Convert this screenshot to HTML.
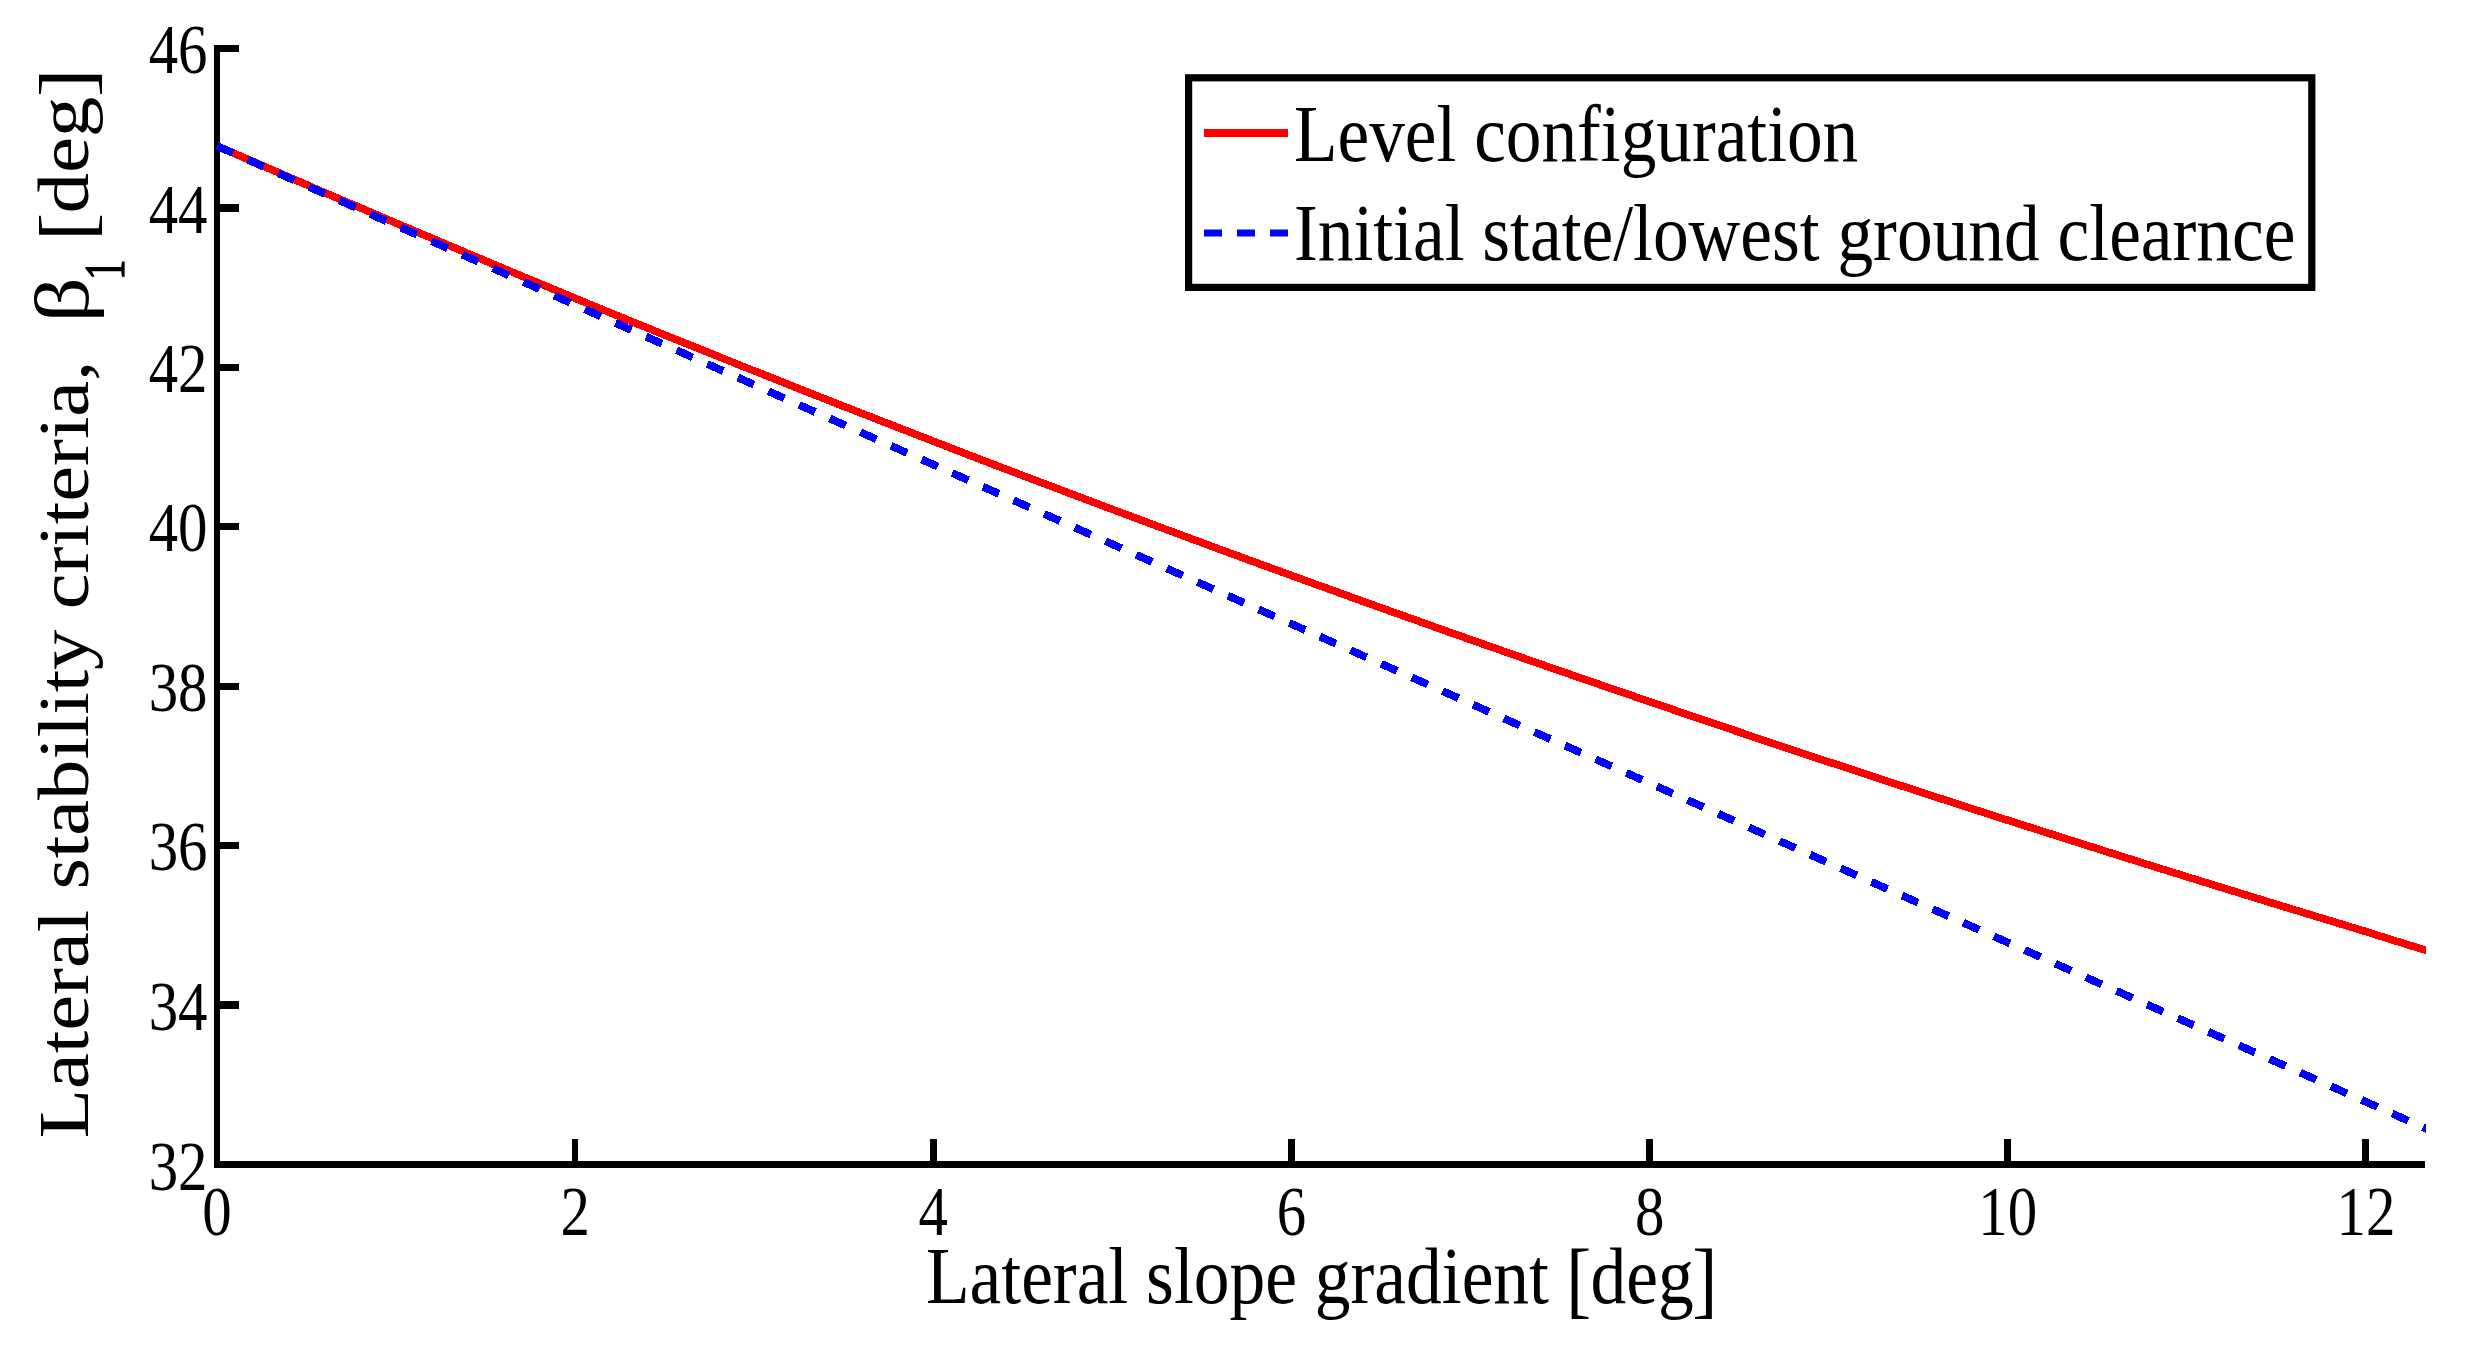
<!DOCTYPE html>
<html><head><meta charset="utf-8"><title>Lateral stability criteria</title>
<style>html,body{margin:0;padding:0;background:#fff}</style></head>
<body>
<svg width="2467" height="1349" viewBox="0 0 2467 1349" style="display:block">
<rect width="2467" height="1349" fill="#fff"/>
<g fill="#000" shape-rendering="crispEdges">
<rect x="214" y="45" width="6" height="1123"/>
<rect x="214" y="1161" width="2211" height="7"/>
<rect x="214" y="1161" width="25" height="7"/>
<rect x="214" y="1001" width="25" height="8"/>
<rect x="214" y="842" width="25" height="7"/>
<rect x="214" y="683" width="25" height="7"/>
<rect x="214" y="523" width="25" height="7"/>
<rect x="214" y="364" width="25" height="7"/>
<rect x="214" y="204" width="25" height="8"/>
<rect x="214" y="45" width="25" height="7"/>
<rect x="214" y="1139" width="6" height="25"/>
<rect x="572" y="1139" width="6" height="25"/>
<rect x="930" y="1139" width="7" height="25"/>
<rect x="1288" y="1139" width="7" height="25"/>
<rect x="1646" y="1139" width="7" height="25"/>
<rect x="2004" y="1139" width="7" height="25"/>
<rect x="2362" y="1139" width="7" height="25"/>
</g>
<defs><clipPath id="ax"><rect x="214" y="45" width="2212" height="1123"/></clipPath></defs>
<g clip-path="url(#ax)" shape-rendering="crispEdges">
<path d="M217.0,145.9 L254.1,162.0 L291.1,178.1 L328.1,194.1 L365.2,209.9 L402.2,225.7 L439.3,241.3 L476.3,257.0 L513.4,272.6 L550.5,288.0 L587.5,303.4 L624.5,318.6 L661.6,333.7 L698.6,348.6 L735.7,363.5 L772.8,378.3 L809.8,393.0 L846.8,407.5 L883.9,422.0 L920.9,436.4 L958.0,450.8 L995.0,465.0 L1032.1,479.1 L1069.2,493.1 L1106.2,507.1 L1143.2,520.9 L1180.3,534.7 L1217.3,548.4 L1254.4,562.0 L1291.4,575.5 L1328.5,588.9 L1365.5,602.3 L1402.6,615.5 L1439.6,628.7 L1476.7,641.8 L1513.8,654.8 L1550.8,667.7 L1587.8,680.5 L1624.9,693.2 L1661.9,705.9 L1699.0,718.5 L1736.0,731.0 L1773.1,743.4 L1810.1,755.8 L1847.2,768.0 L1884.2,780.2 L1921.3,792.3 L1958.3,804.3 L1995.4,816.3 L2032.4,828.1 L2069.5,839.9 L2106.6,851.6 L2143.6,863.3 L2180.6,874.8 L2217.7,886.3 L2254.8,897.7 L2291.8,909.1 L2328.8,920.3 L2365.9,931.6 L2402.9,943.2 L2440.0,954.6" fill="none" stroke="#f00" stroke-width="7.6"/>
<path d="M217.0,146.0 L380.0,218.4 L471.0,258.5 L575.0,304.9 L800.0,405.3 L1650.0,783.4 L2440.0,1134.8" fill="none" stroke="#00f" stroke-width="7.8" stroke-dasharray="17.5 16.03"/>
</g>
<g style="font-family:'Liberation Serif','DejaVu Serif',serif;font-size:70.5px" fill="#000">
<text transform="translate(207.5,1190.0) scale(0.835,1)" text-anchor="end">32</text>
<text transform="translate(207.5,1029.6) scale(0.835,1)" text-anchor="end">34</text>
<text transform="translate(207.5,870.2) scale(0.835,1)" text-anchor="end">36</text>
<text transform="translate(207.5,710.8) scale(0.835,1)" text-anchor="end">38</text>
<text transform="translate(207.5,551.4) scale(0.835,1)" text-anchor="end">40</text>
<text transform="translate(207.5,391.9) scale(0.835,1)" text-anchor="end">42</text>
<text transform="translate(207.5,232.5) scale(0.835,1)" text-anchor="end">44</text>
<text transform="translate(207.5,73.1) scale(0.835,1)" text-anchor="end">46</text>
<text transform="translate(217.0,1234.8) scale(0.835,1)" text-anchor="middle">0</text>
<text transform="translate(575.2,1234.8) scale(0.835,1)" text-anchor="middle">2</text>
<text transform="translate(933.3,1234.8) scale(0.835,1)" text-anchor="middle">4</text>
<text transform="translate(1291.5,1234.8) scale(0.835,1)" text-anchor="middle">6</text>
<text transform="translate(1649.6,1234.8) scale(0.835,1)" text-anchor="middle">8</text>
<text transform="translate(2007.8,1234.8) scale(0.835,1)" text-anchor="middle">10</text>
<text transform="translate(2366.0,1234.8) scale(0.835,1)" text-anchor="middle">12</text>
</g>
<g style="font-family:'Liberation Serif','DejaVu Serif',serif;font-size:80px" fill="#000">
<text transform="translate(925.9,1303.1) scale(0.8935,1)">Lateral slope gradient <tspan font-size="84.8" dy="4.6" dx="-0.8">[</tspan><tspan dy="-4.6" dx="-0.8">deg</tspan><tspan font-size="84.8" dy="4.6" dx="-1.7">]</tspan></text>
<text transform="translate(88.0,1138.3) rotate(-90) scale(1.009,0.8935)">Lateral stability criteria,</text>
<text transform="translate(88.0,322.5) rotate(-90) scale(1.113,0.953)">β</text>
<text transform="translate(124.1,280) rotate(-90) scale(0.72,1.0)" font-size="57" stroke="#000" stroke-width="1.3">1</text>
<text transform="translate(88.0,240.5) rotate(-90) scale(1.012,0.8935)"><tspan font-size="84.8" dy="4.6" dx="-0.8">[</tspan><tspan dy="-4.6" dx="-0.8">deg</tspan><tspan font-size="84.8" dy="4.6" dx="-0.4">]</tspan></text>
</g>
<rect x="1188.6" y="77.8" width="1123.2" height="209.6" fill="#fff" stroke="#000" stroke-width="7.2"/>
<path d="M1204,133 H1288" stroke="#f00" stroke-width="8" fill="none"/>
<path d="M1204,233 H1288" stroke="#00f" stroke-width="7.2" fill="none" stroke-dasharray="18 15"/>
<g style="font-family:'Liberation Serif','DejaVu Serif',serif;font-size:80px" fill="#000">
<text transform="translate(1294.0,161.4) scale(0.8915,1)">Level configuration</text>
<text transform="translate(1293.9,260.4) scale(0.8929,1)">Initial state/lowest ground clearnce</text>
</g>
</svg>
</body></html>
